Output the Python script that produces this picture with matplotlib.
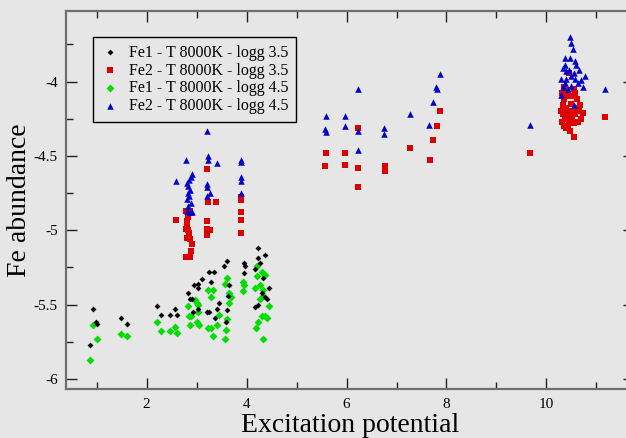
import matplotlib.pyplot as plt
from matplotlib.ticker import MultipleLocator

plt.rcParams['font.family'] = ['Liberation Serif', 'DejaVu Serif']
plt.rcParams['axes.unicode_minus'] = False

# Fe1 - logg 3.5 (black)
fe1_a_x = [0.92, 1.00, 0.98, 0.87, 1.48, 1.61, 2.21, 2.28, 2.47, 2.57, 2.60,
           2.83, 2.87, 2.90, 2.95, 3.03, 3.03, 3.03, 2.93, 3.25, 3.35, 3.28,
           3.20, 3.25, 3.40, 3.37, 3.55, 3.60, 3.65, 3.60, 3.59, 3.63, 3.95,
           3.97, 3.95, 4.23, 4.23, 4.37, 4.27, 4.17, 4.32, 4.45, 4.40, 4.23,
           4.17, 4.37, 3.10, 3.45, 4.30]
fe1_a_y = [-5.53, -5.63, -5.62, -5.77, -5.59, -5.63, -5.51, -5.57, -5.57, -5.53, -5.57,
           -5.42, -5.46, -5.46, -5.37, -5.36, -5.39, -5.53, -5.55, -5.28, -5.28, -5.35,
           -5.55, -5.55, -5.53, -5.59, -5.24, -5.21, -5.37, -5.54, -5.62, -5.44, -5.22,
           -5.24, -5.29, -5.12, -5.19, -5.17, -5.22, -5.26, -5.32, -5.39, -5.46, -5.50,
           -5.52, -5.45, -5.33, -5.49, -5.42]

# Fe2 - logg 3.5 (red)
fe2_a_x = [2.59, 2.79, 2.87, 2.80, 2.81, 2.79, 2.83, 2.85, 2.81, 2.87, 2.90,
           2.89, 2.79, 2.87, 2.84, 2.82,
           3.20, 3.23, 3.39, 3.21, 3.21, 3.27, 3.20,
           3.89, 3.89, 3.89, 3.89, 3.89,
           5.59, 5.96, 5.57, 5.96, 6.22, 6.23, 6.23, 6.77, 6.77, 7.27, 7.67,
           7.88, 7.81, 7.73, 9.67, 11.17,
           10.32, 10.36, 10.33, 10.30, 10.34, 10.38, 10.31, 10.36, 10.40, 10.42,
           10.45, 10.48, 10.50, 10.52, 10.55, 10.58, 10.60, 10.62, 10.65, 10.68,
           10.70, 10.44, 10.47, 10.40, 10.55, 10.58, 10.35, 10.50, 10.63, 10.42,
           10.55, 10.45, 10.73, 10.39]
fe2_a_y = [-4.93, -4.87, -4.87, -4.94, -4.97, -4.99, -5.00, -5.03, -5.05, -5.06, -5.09,
           -5.14, -5.18, -5.18, -5.02, -4.91,
           -4.59, -4.81, -4.81, -4.94, -4.99, -5.00, -5.03,
           -4.78, -4.80, -4.88, -4.93, -5.02,
           -4.48, -4.48, -4.57, -4.56, -4.58, -4.71, -4.31, -4.57, -4.60, -4.45, -4.53,
           -4.20, -4.30, -4.39, -4.48, -4.24,
           -4.08, -4.12, -4.16, -4.20, -4.22, -4.25, -4.27, -4.30, -4.18, -4.22,
           -4.26, -4.20, -4.15, -4.24, -4.28, -4.22, -4.18, -4.12, -4.20, -4.16,
           -4.25, -4.30, -4.33, -4.10, -4.05, -4.08, -4.04, -4.10, -4.27, -4.06,
           -4.37, -3.94, -4.21, -4.31]

# Fe1 - logg 4.5 (green)
fe1_b_x = [0.92, 1.00, 0.86, 1.48, 1.61, 2.20, 2.29, 2.47, 2.57, 2.60, 2.82,
           2.85, 2.88, 2.87, 2.97, 3.00, 3.03, 3.00, 3.05, 3.23, 3.32, 3.29,
           3.23, 3.28, 3.33, 3.40, 3.60, 3.57, 3.65, 3.68, 3.65, 3.60, 3.59,
           3.57, 3.93, 3.95, 3.93, 4.21, 4.30, 4.37, 4.20, 4.27, 4.17, 4.32,
           4.33, 4.27, 4.45, 4.30, 4.37, 4.41, 4.23, 4.19, 4.32, 3.02, 3.45]
fe1_b_y = [-5.64, -5.73, -5.87, -5.70, -5.71, -5.62, -5.68, -5.68, -5.65, -5.69, -5.51,
           -5.58, -5.58, -5.64, -5.47, -5.49, -5.50, -5.62, -5.64, -5.40, -5.40, -5.45,
           -5.66, -5.66, -5.71, -5.64, -5.32, -5.36, -5.42, -5.45, -5.49, -5.60, -5.67,
           -5.73, -5.35, -5.37, -5.41, -5.24, -5.28, -5.30, -5.31, -5.37, -5.39, -5.40,
           -5.44, -5.46, -5.51, -5.58, -5.58, -5.59, -5.62, -5.66, -5.73, -5.55, -5.57]

# Fe2 - logg 4.5 (blue)
fe2_b_x = [2.79, 2.59, 2.90, 2.88, 2.85, 2.80, 2.83, 2.87, 2.83, 2.85, 2.81,
           2.89, 2.83, 2.90, 2.80, 2.87,
           3.23, 3.23, 3.40, 3.20, 3.21, 3.27, 3.20, 3.21,
           3.89, 3.89, 3.89, 3.89, 3.89,
           5.59, 5.57, 5.58, 5.97, 5.97, 6.22, 6.22, 6.22, 6.74, 6.74, 7.28, 7.73,
           7.80, 7.81, 7.88, 7.65, 9.67, 11.17,
           10.47, 10.50, 10.53, 10.37, 10.47, 10.57, 10.60, 10.37, 10.33, 10.65,
           10.77, 10.50, 10.30, 10.40, 10.57, 10.70, 10.37, 10.63, 10.50, 10.73,
           10.33, 10.43, 10.30, 10.55, 10.40, 10.45, 10.55]
fe2_b_y = [-4.53, -4.67, -4.62, -4.64, -4.66, -4.68, -4.70, -4.73, -4.75, -4.77, -4.79,
           -4.82, -4.84, -4.88, -4.87, -4.88,
           -4.50, -4.53, -4.55, -4.69, -4.71, -4.75, -4.77, -4.33,
           -4.53, -4.54, -4.64, -4.67, -4.75,
           -4.23, -4.32, -4.34, -4.23, -4.30, -4.05, -4.33, -4.46, -4.31, -4.35, -4.22, -4.14,
           -4.04, -4.05, -3.95, -4.29, -4.29, -4.05,
           -3.70, -3.74, -3.78, -3.84, -3.84, -3.86, -3.89, -3.89, -3.91, -3.92,
           -3.96, -3.96, -3.98, -3.98, -3.98, -3.99, -4.01, -4.01, -4.03, -4.04,
           -4.04, -4.05, -4.09, -4.16, -3.93, -3.92, -3.94]

bg = '#e6e6e6'
fig = plt.figure(figsize=(6.26, 4.38), dpi=100, facecolor=bg)
ax = fig.add_axes([0.1054, 0.111, 0.907, 0.864], facecolor=bg)

ax.scatter(fe1_a_x, fe1_a_y, marker='D', s=9, color='black', lw=0,
           label='Fe1 - T 8000K - logg 3.5', zorder=4)
ax.scatter(fe2_a_x, fe2_a_y, marker='s', s=20, color='#dd0000', lw=0,
           label='Fe2 - T 8000K - logg 3.5', zorder=2)
ax.scatter(fe1_b_x, fe1_b_y, marker='D', s=16, color='#00dd00', lw=0,
           label='Fe1 - T 8000K - logg 4.5', zorder=3)
ax.scatter(fe2_b_x, fe2_b_y, marker='^', s=22, color='#0000cc', lw=0,
           label='Fe2 - T 8000K - logg 4.5', zorder=3)

ax.set_xlim(0.387, 11.747)
ax.set_ylim(-6.071, -3.525)

ax.xaxis.set_major_locator(MultipleLocator(2))
ax.xaxis.set_minor_locator(MultipleLocator(1))
ax.yaxis.set_major_locator(MultipleLocator(0.5))
ax.yaxis.set_minor_locator(MultipleLocator(0.25))
ax.yaxis.set_major_formatter(plt.FuncFormatter(lambda v, p: '%g' % v))
ax.tick_params(which='both', direction='in', top=True, right=True,
               color='#222222', labelsize=11, pad=6)
ax.tick_params(which='major', length=8, width=1)
ax.tick_params(which='minor', length=5, width=1)

for sp in ax.spines.values():
    sp.set_color('#707070')
    sp.set_linewidth(1.6)

ax.set_xlabel('Excitation potential', fontsize=20, labelpad=2)
ax.set_ylabel('Fe abundance', fontsize=20, labelpad=1)

leg = ax.legend(loc='upper left', bbox_to_anchor=(0.0475, 0.93), borderaxespad=0,
                fontsize=11.5, fancybox=False, framealpha=1, facecolor=bg,
                edgecolor='black', handletextpad=0.6, labelspacing=0.12,
                borderpad=0.45, scatterpoints=1, handlelength=1.2)
leg.get_frame().set_linewidth(1.0)

fig.savefig('out.png', dpi=100, facecolor=bg)
